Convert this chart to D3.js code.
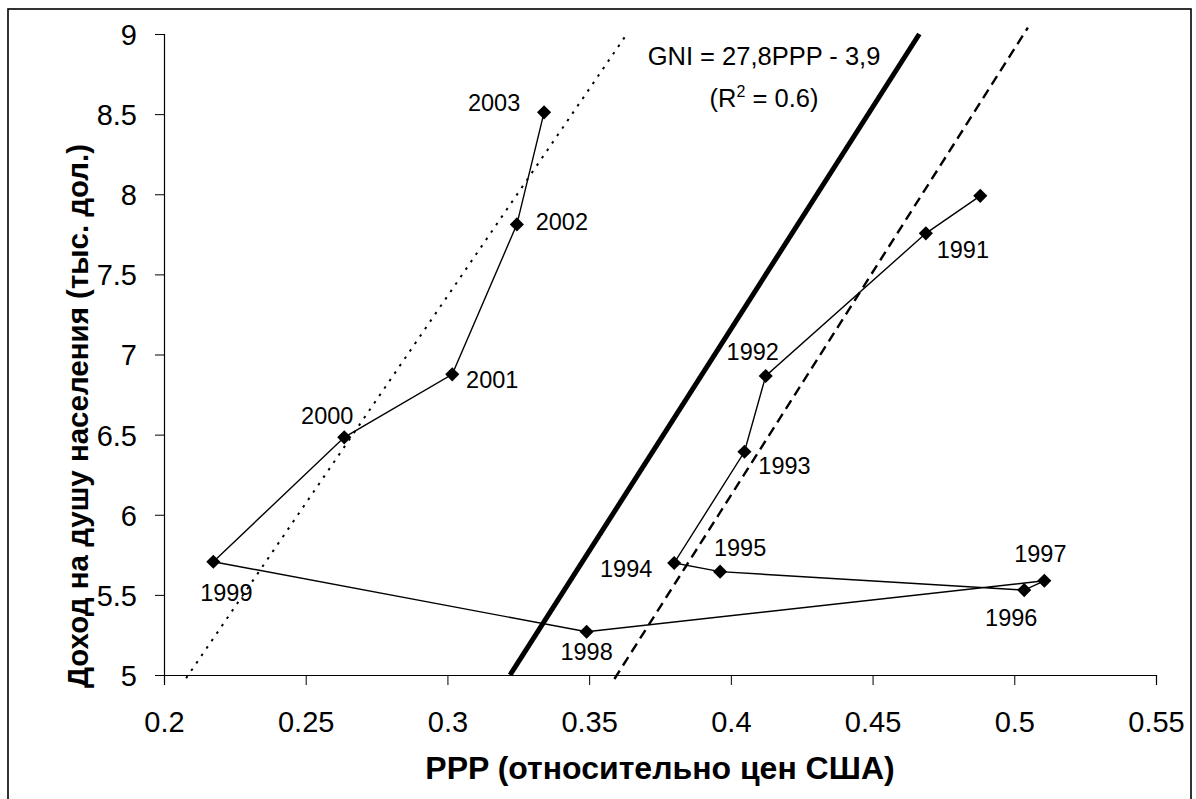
<!DOCTYPE html>
<html>
<head>
<meta charset="utf-8">
<script src="https://cdn.jsdelivr.net/npm/d3@7"></script>
<style>
  html, body { margin: 0; padding: 0; background: #fff; }
  svg { display: block; }
  text { font-family: Arial, "Liberation Sans", Helvetica, sans-serif; fill: #000; }
</style>
</head>
<body>
<svg id="chart" width="1196" height="799"></svg>
<script>
// ---- data ----
const ppp    = [0.488, 0.4688, 0.4123, 0.4048, 0.380, 0.3962, 0.5035, 0.5106, 0.3491, 0.2174, 0.2636, 0.3017, 0.3245, 0.3341];
const income = [7.99, 7.756, 6.866, 6.393, 5.699, 5.645, 5.530, 5.588, 5.270, 5.707, 6.483, 6.876, 7.812, 8.511];
const yearLabels = ["", "1991", "1992", "1993", "1994", "1995", "1996", "1997", "1998", "1999", "2000", "2001", "2002", "2003"];
const labelPlacement = ["none", "br", "tl", "br2", "l", "tr", "bl", "t", "b", "b2", "tl2", "r", "r2", "l2"];

const xTicks = [0.2, 0.25, 0.3, 0.35, 0.4, 0.45, 0.5, 0.55];
const yTicks = [5, 5.5, 6, 6.5, 7, 7.5, 8, 8.5, 9];

// trend lines: endpoints [ppp, income]
const trendDotted = [[0.2078, 4.98], [0.3633, 9.0]];
const trendBold   = [[0.3221, 5.0], [0.4665, 9.0]];
const trendDashed = [[0.3589, 4.975], [0.5048, 9.04]];

const equationLine1 = "GNI = 27,8PPP - 3,9";
const xTitle = "PPP (относительно цен США)";
const yTitle = "Доход на душу населения (тыс. дол.)";

// ---- layout ----
const svg = d3.select("#chart");
const x = d3.scaleLinear().domain([0.2, 0.55]).range([164, 1156]);
const y = d3.scaleLinear().domain([5, 9]).range([675, 34]);

const offsets = {
  none: [0, 0], br: [37, 16], tl: [-13, -24], br2: [40, 14], l: [-48, 6], tr: [20, -24],
  bl: [-13, 27], t: [-4, -27], b: [0, 20], b2: [13, 31], tl2: [-17, -22], r: [40, 5],
  r2: [45, -3], l2: [-50, -10]
};

// outer frame
svg.append("rect").attr("x", 8).attr("y", 9).attr("width", 1183).attr("height", 820)
  .attr("fill", "none").attr("stroke", "#000").attr("stroke-width", 1.6);

// axes
const xAxis = d3.axisBottom(x).tickValues(xTicks).tickSizeOuter(0).tickSize(10)
  .tickFormat(d => String(+d.toFixed(2)));
const gx = svg.append("g").attr("transform", "translate(0,675)").call(xAxis);
gx.select(".domain").attr("stroke", "#000").attr("stroke-width", 1.2);
gx.selectAll(".tick line").attr("stroke", "#000");
gx.selectAll(".tick text").attr("font-size", 29).attr("dy", 0).attr("y", 57)
  .style("font-family", "Arial, 'Liberation Sans', sans-serif");

const yAxis = d3.axisLeft(y).tickValues(yTicks).tickSizeOuter(0).tickSize(9)
  .tickFormat(d => String(d));
const gy = svg.append("g").attr("transform", "translate(164,0)").call(yAxis);
gy.select(".domain").attr("stroke", "#000").attr("stroke-width", 1.2);
gy.selectAll(".tick line").attr("stroke", "#000");
gy.selectAll(".tick text").attr("font-size", 29).attr("x", -27).attr("dy", "0.36em")
  .style("font-family", "Arial, 'Liberation Sans', sans-serif");

// trend lines
const line = d3.line().x(d => x(d[0])).y(d => y(d[1]));
svg.append("path").attr("d", line(trendDotted)).attr("fill", "none")
  .attr("stroke", "#000").attr("stroke-width", 2).attr("stroke-dasharray", "2.5,6.5");
svg.append("path").attr("d", line(trendBold)).attr("fill", "none")
  .attr("stroke", "#000").attr("stroke-width", 5);
svg.append("path").attr("d", line(trendDashed)).attr("fill", "none")
  .attr("stroke", "#000").attr("stroke-width", 2.4).attr("stroke-dasharray", "10,6");

// series line
const pts = ppp.map((v, i) => [v, income[i]]);
svg.append("path").attr("d", line(pts)).attr("fill", "none")
  .attr("stroke", "#000").attr("stroke-width", 1.4);

// markers
const diamond = d3.symbol().type(d3.symbolSquare).size(100);
svg.append("g").selectAll("path").data(pts).join("path")
  .attr("d", diamond)
  .attr("transform", d => `translate(${x(d[0])},${y(d[1])}) rotate(45)`)
  .attr("fill", "#000");

// year labels
svg.append("g").selectAll("text").data(pts).join("text")
  .attr("x", (d, i) => x(d[0]) + offsets[labelPlacement[i]][0])
  .attr("y", (d, i) => y(d[1]) + offsets[labelPlacement[i]][1])
  .attr("dy", "0.36em")
  .attr("text-anchor", "middle")
  .attr("font-size", 23.5)
  .text((d, i) => yearLabels[i]);

// equation annotation
svg.append("text").attr("x", 764).attr("y", 65).attr("text-anchor", "middle")
  .attr("font-size", 25.5).text(equationLine1);
const eq2 = svg.append("text").attr("x", 764).attr("y", 107).attr("text-anchor", "middle")
  .attr("font-size", 25.5);
eq2.append("tspan").text("(R");
eq2.append("tspan").attr("dy", -10).attr("font-size", 16).text("2");
eq2.append("tspan").attr("dy", 10).text(" = 0.6)");

// axis titles
svg.append("text").attr("x", 660).attr("y", 779).attr("text-anchor", "middle")
  .attr("font-size", 32).attr("font-weight", "bold").text(xTitle);
svg.append("text")
  .attr("transform", "translate(88,416) rotate(-90)")
  .attr("text-anchor", "middle")
  .attr("font-size", 29.5).attr("font-weight", "bold").text(yTitle);
</script>
</body>
</html>
